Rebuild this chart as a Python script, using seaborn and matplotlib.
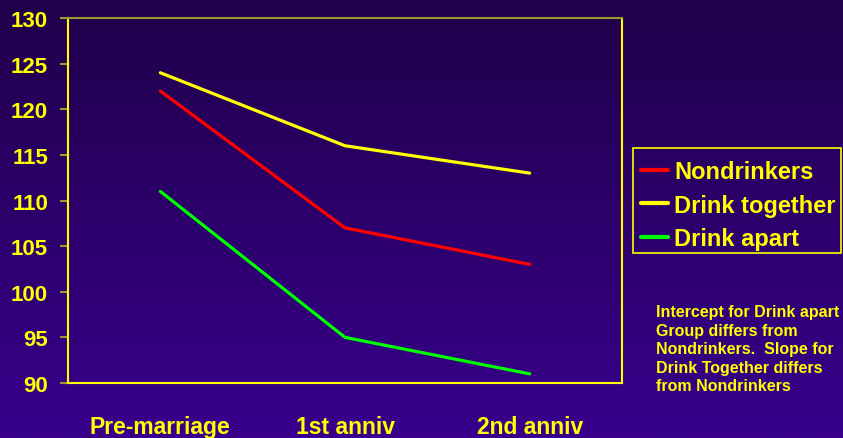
import numpy as np
import pandas as pd
import matplotlib
matplotlib.use("Agg")
import matplotlib.pyplot as plt
import seaborn as sns
from matplotlib.colors import LinearSegmentedColormap
from matplotlib.patches import Rectangle

timepoints = ["Pre-marriage", "1st anniv", "2nd anniv"]
nondrinkers = [122, 107, 103]
drink_together = [124, 116, 113]
drink_apart = [111, 95, 91]
series_names = ["Nondrinkers", "Drink together", "Drink apart"]
series_colors = ["#ff0000", "#ffff00", "#00ff00"]
y_ticks = [90, 95, 100, 105, 110, 115, 120, 125, 130]
note = ("Intercept for Drink apart\nGroup differs from\nNondrinkers.  Slope for\n"
        "Drink Together differs\nfrom Nondrinkers")

rows = []
for name, vals in zip(series_names, [nondrinkers, drink_together, drink_apart]):
    for i, (t, v) in enumerate(zip(timepoints, vals)):
        rows.append({"time": i, "label": t, "score": v, "group": name})
df = pd.DataFrame(rows)

sns.set_style("white")
plt.rcParams["font.family"] = ["Liberation Sans", "DejaVu Sans"]
plt.rcParams["font.weight"] = "bold"

YEL = "#ffff00"
OLIVE = "#9a9a30"

fig = plt.figure(figsize=(8.43, 4.39), dpi=100)
bg = fig.add_axes([0, 0, 1, 1], zorder=-10)
cmap = LinearSegmentedColormap.from_list("bg", ["#20004a", "#38008c"])
bg.imshow(np.linspace(0, 1, 256).reshape(-1, 1), aspect="auto", cmap=cmap,
          extent=[0, 1, 0, 1])
bg.axis("off")

ax = fig.add_axes([68/843, 1 - 384/439, (622-68)/843, (384-19)/439])
ax.set_facecolor("none")
sns.lineplot(data=df, x="time", y="score", hue="group", hue_order=series_names,
             palette=series_colors, linewidth=2.3, ax=ax, legend=True)

ax.set_xlim(-0.5, 2.5)
ax.set_ylim(90, 130)
ax.set_yticks(y_ticks)
ax.set_yticklabels([str(v) for v in y_ticks], fontsize=16, fontweight="bold", color=YEL)
ax.set_xticks([-0.5, 0.5, 1.5, 2.5])
ax.set_xticklabels([])
ax.set_xticks([0, 1, 2], minor=True)
ax.set_xticklabels(timepoints, minor=True, fontsize=16.5, fontweight="bold", color=YEL)
ax.tick_params(axis="x", which="major", direction="out", length=5.8, width=1, color=YEL)
ax.tick_params(axis="x", which="minor", length=0, pad=23)
ax.tick_params(axis="y", direction="out", length=5.8, width=1.5, color=OLIVE, pad=8.6, left=True)
ax.set_xlabel("")
ax.set_ylabel("")

for side in ["left", "right", "bottom"]:
    ax.spines[side].set_color(YEL)
    ax.spines[side].set_linewidth(1.5)
    ax.spines[side].set_visible(True)
ax.spines["top"].set_color(OLIVE)
ax.spines["top"].set_linewidth(1.5)
ax.spines["top"].set_visible(True)

handles, labels = ax.get_legend_handles_labels()
ax.get_legend().remove()
leg = fig.legend(handles, labels, loc="upper left",
                 bbox_to_anchor=(631/843, 1 - 151/439), bbox_transform=fig.transFigure,
                 frameon=False, borderaxespad=0, borderpad=0.42,
                 handlelength=1.15, handletextpad=0.25, labelspacing=0.45,
                 prop={"size": 17, "weight": "bold"})
for t in leg.get_texts():
    t.set_color(YEL)
for h in leg.get_lines():
    h.set_linewidth(3)

fig.patches.append(Rectangle((633/843, 1 - 254/439), (841-633)/843, (254-149)/439,
                             transform=fig.transFigure, fill=False,
                             edgecolor=YEL, linewidth=1.2))

fig.text(656/843, 1 - 305/439, note, ha="left", va="top", fontsize=11.5,
         fontweight="bold", color=YEL, linespacing=1.3)

fig.savefig("out.png", dpi=100)
